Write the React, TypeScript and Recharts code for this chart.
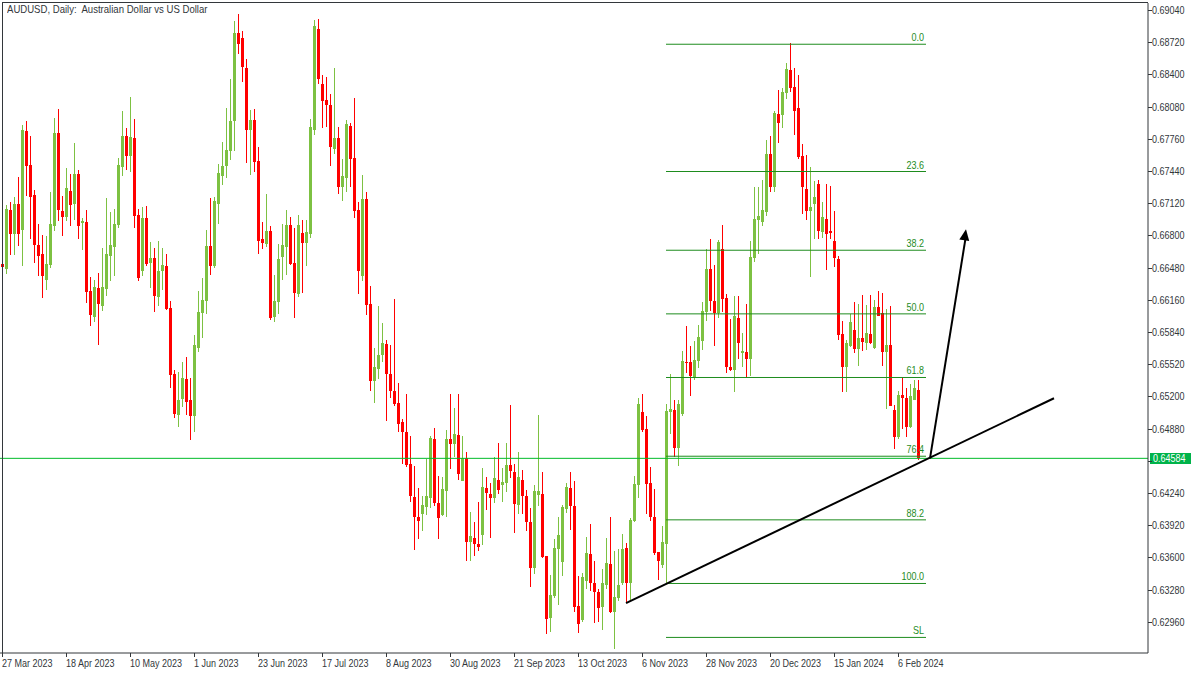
import React from 'react';
import { ComposedChart, Bar, XAxis, YAxis, ReferenceLine, ReferenceDot } from 'recharts';

const open = [
  0.6652, 0.6647, 0.6705, 0.6681, 0.6711, 0.6685, 0.6784, 0.6750, 0.6720, 0.6670,
  0.6662, 0.6636, 0.6651, 0.6689, 0.6782, 0.6704, 0.6698, 0.6724, 0.6711, 0.6741,
  0.6692, 0.6693, 0.6625, 0.6599, 0.6628, 0.6610, 0.6627, 0.6660, 0.6668, 0.6690,
  0.6748, 0.6779, 0.6759, 0.6777, 0.6700, 0.6645, 0.6697, 0.6653, 0.6658, 0.6619,
  0.6645, 0.6650, 0.6608, 0.6542, 0.6501, 0.6517, 0.6537, 0.6516, 0.6500, 0.6568,
  0.6603, 0.6615, 0.6669, 0.6650, 0.6711, 0.6739, 0.6749, 0.6764, 0.6794, 0.6881,
  0.6876, 0.6846, 0.6785, 0.6795, 0.6754, 0.6676, 0.6671, 0.6684, 0.6599, 0.6614,
  0.6659, 0.6668, 0.6690, 0.6653, 0.6622, 0.6682, 0.6672, 0.6681, 0.6785, 0.6885,
  0.6830, 0.6815, 0.6810, 0.6766, 0.6777, 0.6728, 0.6737, 0.6789, 0.6757, 0.6705,
  0.6640, 0.6716, 0.6612, 0.6535, 0.6547, 0.6561, 0.6572, 0.6542, 0.6525, 0.6513,
  0.6495, 0.6485, 0.6453, 0.6420, 0.6400, 0.6403, 0.6410, 0.6419, 0.6478, 0.6414,
  0.6402, 0.6426, 0.6478, 0.6473, 0.6482, 0.6436, 0.6459, 0.6375, 0.6379, 0.6373,
  0.6382, 0.6429, 0.6423, 0.6419, 0.6437, 0.6432, 0.6434, 0.6452, 0.6445, 0.6412,
  0.6437, 0.6421, 0.6395, 0.6349, 0.6422, 0.6423, 0.6361, 0.6300, 0.6322, 0.6368,
  0.6355, 0.6408, 0.6429, 0.6411, 0.6312, 0.6298, 0.6336, 0.6363, 0.6334, 0.6326,
  0.6311, 0.6332, 0.6353, 0.6306, 0.6320, 0.6334, 0.6369, 0.6334, 0.6396, 0.6432,
  0.6504, 0.6488, 0.6434, 0.6400, 0.6365, 0.6352, 0.6373, 0.6504, 0.6506, 0.6469,
  0.6502, 0.6554, 0.6554, 0.6539, 0.6555, 0.6575, 0.6604, 0.6647, 0.6615, 0.6603,
  0.6666, 0.6618, 0.6549, 0.6546, 0.6598, 0.6563, 0.6564, 0.6557, 0.6658, 0.6695,
  0.6693, 0.6703, 0.6761, 0.6728, 0.6801, 0.6800, 0.6822, 0.6844, 0.6828, 0.6807,
  0.6759, 0.6726, 0.6704, 0.6711, 0.6731, 0.6683, 0.6696, 0.6684, 0.6674, 0.6657,
  0.6582, 0.6549, 0.6570, 0.6586, 0.6567, 0.6578, 0.6573, 0.6582, 0.6568, 0.6609,
  0.6603, 0.6564, 0.6571, 0.6506, 0.6480, 0.6521, 0.6518, 0.6490, 0.6516, 0.6526,
];

const high = [
  0.6654, 0.6710, 0.6713, 0.6718, 0.6738, 0.6790, 0.6794, 0.6779, 0.6725, 0.6691,
  0.6680, 0.6679, 0.6723, 0.6797, 0.6806, 0.6719, 0.6747, 0.6741, 0.6772, 0.6745,
  0.6697, 0.6705, 0.6639, 0.6636, 0.6643, 0.6667, 0.6717, 0.6703, 0.6706, 0.6757,
  0.6804, 0.6787, 0.6818, 0.6796, 0.6706, 0.6708, 0.6709, 0.6673, 0.6667, 0.6674,
  0.6667, 0.6662, 0.6615, 0.6546, 0.6544, 0.6554, 0.6559, 0.6538, 0.6581, 0.6625,
  0.6638, 0.6685, 0.6717, 0.6718, 0.6751, 0.6773, 0.6807, 0.6835, 0.6893, 0.6900,
  0.6883, 0.6855, 0.6805, 0.6806, 0.6768, 0.6693, 0.6721, 0.6689, 0.6641, 0.6671,
  0.6691, 0.6705, 0.6698, 0.6687, 0.6700, 0.6695, 0.6695, 0.6796, 0.6894, 0.6895,
  0.6839, 0.6837, 0.6821, 0.6846, 0.6788, 0.6756, 0.6795, 0.6792, 0.6817, 0.6713,
  0.6740, 0.6723, 0.6630, 0.6568, 0.6610, 0.6593, 0.6576, 0.6571, 0.6617, 0.6533,
  0.6497, 0.6522, 0.6481, 0.6451, 0.6429, 0.6421, 0.6458, 0.6481, 0.6489, 0.6441,
  0.6440, 0.6487, 0.6522, 0.6508, 0.6522, 0.6481, 0.6465, 0.6405, 0.6395, 0.6415,
  0.6449, 0.6440, 0.6434, 0.6460, 0.6474, 0.6449, 0.6474, 0.6511, 0.6453, 0.6465,
  0.6447, 0.6427, 0.6409, 0.6432, 0.6501, 0.6445, 0.6361, 0.6342, 0.6378, 0.6400,
  0.6412, 0.6434, 0.6445, 0.6436, 0.6341, 0.6344, 0.6380, 0.6393, 0.6356, 0.6329,
  0.6348, 0.6379, 0.6400, 0.6366, 0.6368, 0.6383, 0.6374, 0.6399, 0.6441, 0.6518,
  0.6522, 0.6500, 0.6450, 0.6428, 0.6365, 0.6391, 0.6512, 0.6542, 0.6516, 0.6516,
  0.6565, 0.6590, 0.6570, 0.6575, 0.6591, 0.6614, 0.6666, 0.6676, 0.6651, 0.6675,
  0.6690, 0.6622, 0.6597, 0.6620, 0.6620, 0.6583, 0.6612, 0.6674, 0.6728, 0.6728,
  0.6735, 0.6775, 0.6779, 0.6804, 0.6825, 0.6827, 0.6851, 0.6871, 0.6846, 0.6839,
  0.6771, 0.6760, 0.6748, 0.6734, 0.6735, 0.6713, 0.6731, 0.6729, 0.6704, 0.6660,
  0.6595, 0.6576, 0.6602, 0.6614, 0.6612, 0.6621, 0.6611, 0.6621, 0.6616, 0.6625,
  0.6623, 0.6607, 0.6610, 0.6511, 0.6525, 0.6539, 0.6528, 0.6532, 0.6536, 0.6536,
];

const low = [
  0.6647, 0.6642, 0.6661, 0.6661, 0.6669, 0.6650, 0.6719, 0.6676, 0.6653, 0.6640,
  0.6618, 0.6626, 0.6648, 0.6684, 0.6694, 0.6679, 0.6694, 0.6689, 0.6695, 0.6676,
  0.6665, 0.6613, 0.6590, 0.6594, 0.6571, 0.6605, 0.6620, 0.6635, 0.6640, 0.6687,
  0.6739, 0.6745, 0.6743, 0.6687, 0.6635, 0.6640, 0.6650, 0.6628, 0.6604, 0.6610,
  0.6626, 0.6606, 0.6528, 0.6498, 0.6490, 0.6509, 0.6501, 0.6477, 0.6485, 0.6564,
  0.6578, 0.6602, 0.6641, 0.6648, 0.6691, 0.6730, 0.6737, 0.6755, 0.6764, 0.6860,
  0.6832, 0.6752, 0.6740, 0.6743, 0.6662, 0.6666, 0.6668, 0.6596, 0.6594, 0.6602,
  0.6636, 0.6641, 0.6651, 0.6598, 0.6619, 0.6623, 0.6650, 0.6677, 0.6780, 0.6830,
  0.6787, 0.6788, 0.6749, 0.6761, 0.6721, 0.6714, 0.6723, 0.6728, 0.6697, 0.6622,
  0.6635, 0.6601, 0.6525, 0.6513, 0.6537, 0.6554, 0.6496, 0.6518, 0.6510, 0.6485,
  0.6453, 0.6450, 0.6415, 0.6367, 0.6378, 0.6386, 0.6402, 0.6409, 0.6411, 0.6378,
  0.6401, 0.6400, 0.6448, 0.6460, 0.6437, 0.6436, 0.6356, 0.6356, 0.6361, 0.6366,
  0.6372, 0.6407, 0.6379, 0.6414, 0.6423, 0.6415, 0.6425, 0.6439, 0.6384, 0.6403,
  0.6403, 0.6386, 0.6331, 0.6343, 0.6411, 0.6359, 0.6284, 0.6286, 0.6320, 0.6313,
  0.6341, 0.6404, 0.6387, 0.6306, 0.6285, 0.6296, 0.6329, 0.6327, 0.6295, 0.6296,
  0.6288, 0.6329, 0.6305, 0.6269, 0.6317, 0.6332, 0.6316, 0.6318, 0.6395, 0.6419,
  0.6485, 0.6403, 0.6396, 0.6362, 0.6337, 0.6349, 0.6334, 0.6483, 0.6460, 0.6451,
  0.6500, 0.6543, 0.6520, 0.6536, 0.6548, 0.6566, 0.6595, 0.6605, 0.6570, 0.6598,
  0.6604, 0.6543, 0.6545, 0.6524, 0.6557, 0.6549, 0.6538, 0.6540, 0.6654, 0.6662,
  0.6689, 0.6699, 0.6723, 0.6723, 0.6772, 0.6787, 0.6816, 0.6823, 0.6780, 0.6756,
  0.6701, 0.6695, 0.6639, 0.6676, 0.6676, 0.6677, 0.6646, 0.6676, 0.6649, 0.6576,
  0.6524, 0.6524, 0.6569, 0.6563, 0.6550, 0.6565, 0.6566, 0.6572, 0.6567, 0.6600,
  0.6550, 0.6507, 0.6510, 0.6468, 0.6478, 0.6488, 0.6480, 0.6489, 0.6516, 0.6457,
];

const close = [
  0.6649, 0.6706, 0.6681, 0.6711, 0.6681, 0.6785, 0.6749, 0.6718, 0.6670, 0.6660,
  0.6640, 0.6652, 0.6691, 0.6782, 0.6705, 0.6698, 0.6727, 0.6710, 0.6741, 0.6689,
  0.6694, 0.6624, 0.6601, 0.6629, 0.6612, 0.6629, 0.6662, 0.6670, 0.6691, 0.6750,
  0.6779, 0.6759, 0.6778, 0.6699, 0.6638, 0.6697, 0.6652, 0.6658, 0.6620, 0.6645,
  0.6651, 0.6607, 0.6541, 0.6502, 0.6516, 0.6538, 0.6514, 0.6500, 0.6571, 0.6604,
  0.6616, 0.6669, 0.6650, 0.6714, 0.6742, 0.6749, 0.6765, 0.6794, 0.6881, 0.6870,
  0.6847, 0.6785, 0.6795, 0.6753, 0.6674, 0.6672, 0.6684, 0.6598, 0.6615, 0.6657,
  0.6670, 0.6690, 0.6652, 0.6623, 0.6690, 0.6672, 0.6683, 0.6788, 0.6888, 0.6835,
  0.6814, 0.6810, 0.6768, 0.6777, 0.6728, 0.6739, 0.6791, 0.6756, 0.6704, 0.6645,
  0.6716, 0.6611, 0.6535, 0.6549, 0.6561, 0.6573, 0.6542, 0.6525, 0.6512, 0.6493,
  0.6485, 0.6452, 0.6421, 0.6400, 0.6396, 0.6412, 0.6421, 0.6479, 0.6414, 0.6399,
  0.6428, 0.6478, 0.6473, 0.6483, 0.6443, 0.6459, 0.6375, 0.6381, 0.6373, 0.6370,
  0.6430, 0.6424, 0.6419, 0.6439, 0.6427, 0.6435, 0.6452, 0.6446, 0.6413, 0.6440,
  0.6421, 0.6395, 0.6349, 0.6426, 0.6426, 0.6360, 0.6299, 0.6323, 0.6369, 0.6382,
  0.6410, 0.6430, 0.6411, 0.6311, 0.6294, 0.6340, 0.6364, 0.6334, 0.6326, 0.6310,
  0.6334, 0.6354, 0.6306, 0.6321, 0.6332, 0.6368, 0.6334, 0.6397, 0.6433, 0.6512,
  0.6487, 0.6433, 0.6400, 0.6364, 0.6356, 0.6375, 0.6505, 0.6507, 0.6469, 0.6512,
  0.6555, 0.6553, 0.6540, 0.6556, 0.6579, 0.6605, 0.6647, 0.6615, 0.6603, 0.6673,
  0.6617, 0.6549, 0.6546, 0.6600, 0.6573, 0.6565, 0.6557, 0.6659, 0.6696, 0.6699,
  0.6705, 0.6761, 0.6728, 0.6802, 0.6792, 0.6823, 0.6845, 0.6827, 0.6804, 0.6758,
  0.6728, 0.6704, 0.6708, 0.6718, 0.6684, 0.6698, 0.6681, 0.6682, 0.6658, 0.6581,
  0.6549, 0.6573, 0.6594, 0.6567, 0.6578, 0.6574, 0.6583, 0.6573, 0.6609, 0.6600,
  0.6564, 0.6571, 0.6510, 0.6480, 0.6521, 0.6518, 0.6490, 0.6520, 0.6528, 0.64584,
];

const dateLabels = [
  '27 Mar 2023', '18 Apr 2023', '10 May 2023', '1 Jun 2023', '23 Jun 2023',
  '17 Jul 2023', '8 Aug 2023', '30 Aug 2023', '21 Sep 2023', '13 Oct 2023',
  '6 Nov 2023', '28 Nov 2023', '20 Dec 2023', '15 Jan 2024', '6 Feb 2024',
];
const dateLabelBars = [0, 16, 32, 48, 64, 80, 96, 112, 128, 144, 160, 176, 192, 208, 224];

const priceTicks = [
  0.6296, 0.6328, 0.636, 0.6392, 0.6424, 0.6456, 0.6488, 0.652, 0.6552, 0.6584,
  0.6616, 0.6648, 0.668, 0.6712, 0.6744, 0.6776, 0.6808, 0.684, 0.6872, 0.6904,
];

const fibLabels = ['0.0', '23.6', '38.2', '50.0', '61.8', '76.4', '88.2', '100.0', 'SL'];
const fibRatios = [0, 23.6, 38.2, 50, 61.8, 76.4, 88.2, 100, 110];
const fibHigh = 0.687;
const fibLow = 0.6334;
const fibBars = [166, 231];

const currentPrice = 0.64584;
const trendBars = [156, 263];
const trendPrices = [0.63144, 0.65181];
const arrowBars = [232, 241];
const arrowPrices = [0.64584, 0.6686];

const TOTAL_BARS = 287;
const Y_DOMAIN = [0.62649, 0.6911];

const BULL = '#7DC142';
const BEAR = '#FF0000';
const FIB = '#1E8C1E';
const PRICE_LINE = '#00BB2A';
const PRICE_BOX = '#00B34A';
const AXIS = '#33373B';
const FONT = "'Liberation Sans', Arial, sans-serif";
const NARROW = 0.82;
const TITLE_NARROW = 0.87;

const data = Array.from({ length: TOTAL_BARS }, (_, i) =>
  i < open.length
    ? { bar: i, open: open[i], high: high[i], low: low[i], close: close[i] }
    : { bar: i }
);

const NarrowText = ({ x, y, anchor = 'start', fill, children }: any) => (
  <text
    transform={`translate(${x} ${y}) scale(${NARROW} 1)`}
    x={0}
    y={0}
    fontSize={11}
    fontFamily={FONT}
    fill={fill}
    textAnchor={anchor}
  >
    {children}
  </text>
);

const Candle = (props: any) => {
  const { x, y, width, height, payload } = props;
  if (!payload || payload.high == null) return null;
  const top = Math.min(y, y + height);
  const h = Math.abs(height);
  const range = payload.high - payload.low;
  const pix = (p: number) => (range > 0 ? top + ((payload.high - p) / range) * h : top);
  const cx = Math.floor(x + width / 2);
  const bull = payload.close > payload.open;
  const color = bull ? BULL : BEAR;
  const bTop = Math.round(pix(Math.max(payload.open, payload.close)));
  const bBot = Math.round(pix(Math.min(payload.open, payload.close)));
  const wTop = Math.round(top);
  const wBot = Math.round(top + h);
  return (
    <g shapeRendering="crispEdges">
      <rect x={cx} y={wTop} width={1} height={Math.max(1, wBot - wTop)} fill={color} />
      <rect x={cx - 1} y={bTop} width={3} height={Math.max(1, bBot - bTop)} fill={color} />
    </g>
  );
};

const DateTick = (props: any) => {
  const { x, y, payload } = props;
  const idx = dateLabelBars.indexOf(payload.value);
  if (idx < 0) return null;
  const tx = Math.floor(x) + 0.5;
  return (
    <g>
      <line x1={tx} y1={y} x2={tx} y2={y + 4} stroke={AXIS} strokeWidth={1} />
      <NarrowText x={Math.floor(x)} y={y + 14} fill={AXIS}>
        {dateLabels[idx]}
      </NarrowText>
    </g>
  );
};

const PriceTick = (props: any) => {
  const { x, y, payload } = props;
  const ty = Math.round(y) + 0.5;
  const hidden = Math.abs(payload.value - currentPrice) < 0.0006;
  return (
    <g>
      <line x1={x} y1={ty} x2={x + 4} y2={ty} stroke={AXIS} strokeWidth={1} />
      {hidden ? null : (
        <NarrowText x={x + 4} y={y + 4} fill={AXIS}>
          {payload.value.toFixed(5)}
        </NarrowText>
      )}
    </g>
  );
};

const FibLabel = (props: any) => {
  const { viewBox, text } = props;
  if (!viewBox) return null;
  return (
    <NarrowText x={viewBox.x + viewBox.width - 2} y={viewBox.y - 3} fill={FIB} anchor="end">
      {text}
    </NarrowText>
  );
};

const PriceBox = (props: any) => {
  const { viewBox, value } = props;
  if (!viewBox) return null;
  const bx = viewBox.x + viewBox.width + 2;
  const by = Math.round(viewBox.y);
  return (
    <g>
      <rect x={bx} y={by - 5} width={41} height={11} fill={PRICE_BOX} />
      <NarrowText x={bx + 3} y={by + 4} fill="#FFFFFF">
        {value.toFixed(5)}
      </NarrowText>
    </g>
  );
};

const ArrowHead = (props: any) => {
  const { cx, cy } = props;
  if (cx == null || cy == null) return null;
  return (
    <polygon
      points={`${cx},${cy} ${cx - 5},${cy + 11} ${cx + 5},${cy + 11}`}
      fill="#000000"
      transform={`rotate(9 ${cx} ${cy})`}
    />
  );
};

export default function App() {
  return (
    <div style={{ position: 'absolute', left: 0, top: 0, width: 1200, height: 675, background: '#FFFFFF', overflow: 'hidden' }}>
      <ComposedChart
        width={1200}
        height={675}
        data={data}
        margin={{ top: 3, right: 0, bottom: 0, left: 0 }}
        barCategoryGap={0}
        barGap={0}
      >
        <XAxis
          dataKey="bar"
          type="category"
          ticks={dateLabelBars}
          interval={0}
          height={22}
          tickSize={0}
          tickMargin={0}
          tickLine={false}
          axisLine={{ stroke: AXIS }}
          tick={<DateTick />}
        />
        <YAxis
          orientation="right"
          type="number"
          domain={Y_DOMAIN}
          allowDataOverflow
          ticks={priceTicks}
          interval={0}
          width={52}
          tickSize={0}
          tickMargin={0}
          tickLine={false}
          axisLine={{ stroke: AXIS }}
          tick={<PriceTick />}
        />
        {fibRatios.map((r, k) => {
          const lvl = fibHigh - (r / 100) * (fibHigh - fibLow);
          return (
            <ReferenceLine
              key={'fib' + k}
              segment={[{ x: fibBars[0], y: lvl }, { x: fibBars[1], y: lvl }]}
              stroke={FIB}
              strokeWidth={1}
              label={<FibLabel text={fibLabels[k]} />}
            />
          );
        })}
        <Bar
          dataKey={(d: any) => (d.high != null ? [d.low, d.high] : null)}
          shape={<Candle />}
          isAnimationActive={false}
        />
        <ReferenceLine
          y={currentPrice}
          stroke={PRICE_LINE}
          strokeWidth={1}
          label={<PriceBox value={currentPrice} />}
        />
        <ReferenceLine
          segment={[{ x: trendBars[0], y: trendPrices[0] }, { x: trendBars[1], y: trendPrices[1] }]}
          stroke="#000000"
          strokeWidth={2}
        />
        <ReferenceLine
          segment={[{ x: arrowBars[0], y: arrowPrices[0] }, { x: arrowBars[1], y: arrowPrices[1] - 0.0006 }]}
          stroke="#000000"
          strokeWidth={2}
        />
        <ReferenceDot x={arrowBars[1]} y={arrowPrices[1]} r={5} shape={<ArrowHead />} />
      </ComposedChart>
      <div
        style={{
          position: 'absolute',
          left: 2,
          top: 2,
          width: 1145,
          height: 651,
          borderLeft: `1px solid ${AXIS}`,
          borderTop: `1px solid ${AXIS}`,
          pointerEvents: 'none',
        }}
      />
      <div
        style={{
          position: 'absolute',
          left: 7,
          top: 3,
          fontSize: 11,
          lineHeight: '13px',
          fontFamily: FONT,
          color: AXIS,
          whiteSpace: 'pre',
          transform: `scaleX(${TITLE_NARROW})`,
          transformOrigin: '0 0',
        }}
      >
        {'AUDUSD, Daily:  Australian Dollar vs US Dollar'}
      </div>
    </div>
  );
}
